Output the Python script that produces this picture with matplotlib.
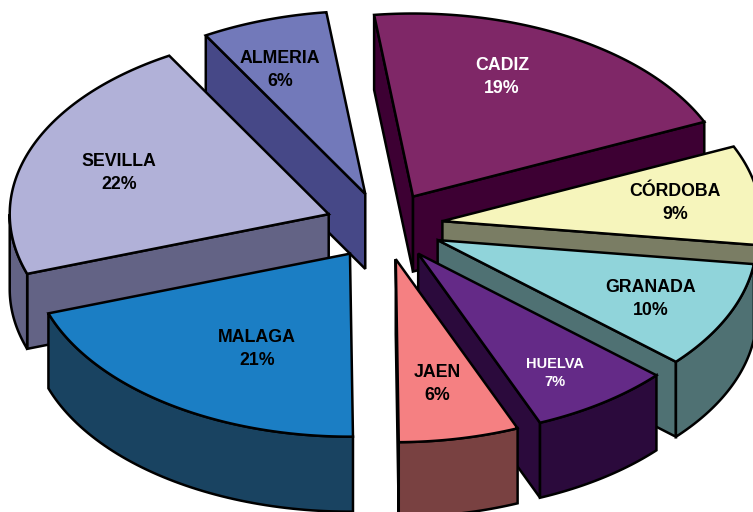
import numpy as np
import matplotlib
matplotlib.use('Agg')
import matplotlib.pyplot as plt
from matplotlib.patches import Polygon

plt.rcParams['font.family'] = ['Liberation Sans', 'DejaVu Sans']

# provincias, in clockwise order starting at the ALMERIA slice
names = ['ALMERIA', 'CADIZ', 'CÓRDOBA', 'GRANADA', 'HUELVA', 'JAEN', 'MALAGA', 'SEVILLA']
# slice sizes as measured on the picture, the printed labels are rounded differently
shares = [6.4, 20.3, 8.8, 9.5, 7.2, 6.1, 19.9, 22.0]
percent_labels = ['6%', '19%', '9%', '10%', '7%', '6%', '21%', '22%']

# colours
top_colors = ['#7279BA', '#7F2767', '#F6F5BC', '#90D4DA', '#642A87', '#F58082', '#1B7EC4', '#B1B1D8']
side_colors = ['#464887', '#3D0033', '#7A7D64', '#4F7173', '#2B0A3C', '#794141', '#194361', '#636385']
text_colors = ['black', 'white', 'black', 'black', 'white', 'black', 'black', 'black']
text_sizes = [12.8, 12.8, 12.8, 12.8, 10.5, 12.8, 12.8, 12.8]
text_xy = [(280, 70), (502, 77), (675, 203), (651, 299), (555, 373), (437, 384), (257, 349), (119, 173)]

# geometry of the projected pie
cx, cy = 384, 226
rx, ry = 319, 183
depth = 75
explode = 0.185
start_angle = 330
draw_order = [0, 1, 7, 2, 6, 3, 4, 5]


def rim(t, x0, y0):
    a = np.radians(t)
    return x0 + rx * np.sin(a), y0 - ry * np.cos(a)


fig = plt.figure(figsize=(7.53, 5.12), dpi=100)
ax = fig.add_axes([0, 0, 1, 1])
ax.set_xlim(0, 753)
ax.set_ylim(512, 0)
ax.axis('off')

edges = start_angle + np.cumsum([0] + shares) / sum(shares) * 360

for i in draw_order:
    t0, t1 = edges[i], edges[i + 1]
    mid = np.radians((t0 + t1) / 2)
    x0 = cx + explode * rx * np.sin(mid)
    y0 = cy - explode * ry * np.cos(mid)
    style = dict(edgecolor='black', linewidth=1.8)

    # radial walls, only those turned to the viewer
    for t, sign in ((t0, -1), (t1, 1)):
        if np.sin(np.radians(t)) * sign > 0:
            xe, ye = rim(t, x0, y0)
            ax.add_patch(Polygon([(x0, y0), (xe, ye), (xe, ye + depth), (x0, y0 + depth)],
                                 facecolor=side_colors[i], **style))

    # outer wall, only the part facing the viewer (angles run on from 330 so 90-270 is 450-630)
    lo, hi = max(t0, 450), min(t1, 630)
    if hi > lo:
        ts = np.linspace(lo, hi, 60)
        xs, ys = rim(ts, x0, y0)
        pts = list(zip(xs, ys)) + list(zip(xs[::-1], ys[::-1] + depth))
        ax.add_patch(Polygon(pts, facecolor=side_colors[i], **style))

    # top face
    ts = np.linspace(t0, t1, 80)
    xs, ys = rim(ts, x0, y0)
    ax.add_patch(Polygon([(x0, y0)] + list(zip(xs, ys)), facecolor=top_colors[i], **style))

for i in range(len(names)):
    ax.text(text_xy[i][0], text_xy[i][1], names[i] + '\n' + percent_labels[i], color=text_colors[i],
            fontsize=text_sizes[i], fontweight='bold', ha='center', va='center', linespacing=1.4)

fig.savefig('out.png', dpi=100)
